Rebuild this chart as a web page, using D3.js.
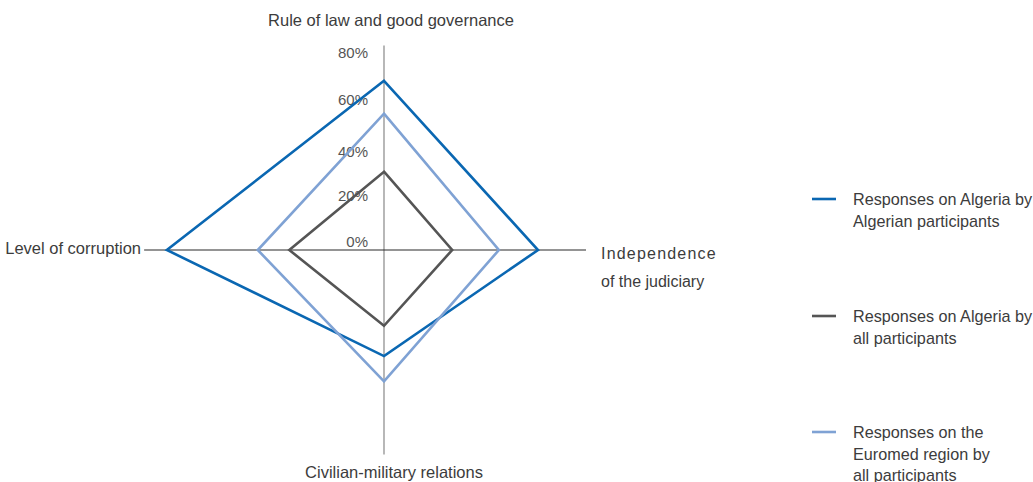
<!DOCTYPE html>
<html>
<head>
<meta charset="utf-8">
<script src="https://cdn.jsdelivr.net/npm/d3@7"></script>
<style>
  body { margin: 0; background: #fff; }
  text { font-family: "Liberation Sans", Arial, sans-serif; fill: #3c3c3c; }
</style>
</head>
<body>
<script>
// axes in drawing order: top, right, bottom, left
var axes = ["Rule of law and good governance", "Independence of the judiciary", "Civilian-military relations", "Level of corruption"];
var ticks = [0, 20, 40, 60, 80];
var seriesNames = [
  ["Responses on Algeria by", "Algerian participants"],
  ["Responses on Algeria by", "all participants"],
  ["Responses on the", "Euromed region by", "all participants"]
];
var algeriaByAlgerians = [67, 61, 42, 86];
var algeriaByAll = [31, 27, 30, 37.5];
var euromedByAll = [54, 45.5, 52, 50];
var colors = ["#0a67b2", "#555555", "#7fa2d4"];

var width = 1033, height = 482;
var cx = 384, cy = 250;

var svg = d3.select("body").append("svg")
    .attr("width", width)
    .attr("height", height);

var r = d3.scaleLinear().domain([0, 80]).range([0, 202]);

// angle for each axis (clockwise from top)
var angle = function(i) { return i * Math.PI / 2; };

// axis lines (left one runs longer in the original)
var axisExtent = [81, 80, 81, 95];
svg.append("line")
  .attr("x1", cx).attr("x2", cx)
  .attr("y1", cy - r(axisExtent[0])).attr("y2", cy + r(axisExtent[2]))
  .style("stroke", "#888").style("stroke-width", 1.2);
svg.append("line")
  .attr("y1", cy).attr("y2", cy)
  .attr("x1", cx - r(axisExtent[3])).attr("x2", cx + r(axisExtent[1]))
  .style("stroke", "#2a2a2a").style("stroke-width", 1.1);

// tick labels
var tickY = [242, 196, 152, 100, 53];
svg.selectAll(".tick")
  .data(ticks)
  .enter().append("text")
  .attr("class", "tick")
  .attr("x", 368)
  .attr("y", function(d, i) { return tickY[i]; })
  .attr("dy", "0.35em")
  .attr("text-anchor", "end")
  .style("font-size", "15px")
  .style("fill", "#555")
  .text(function(d) { return d + "%"; });

var radar = d3.lineRadial()
  .angle(function(d, i) { return angle(i); })
  .radius(function(d) { return r(d); })
  .curve(d3.curveLinearClosed);

var allSeries = [algeriaByAlgerians, euromedByAll, algeriaByAll];
var seriesColors = [colors[0], colors[2], colors[1]];

svg.append("g")
  .attr("transform", "translate(" + cx + "," + cy + ")")
  .selectAll("path")
  .data(allSeries)
  .enter().append("path")
  .attr("d", radar)
  .style("fill", "none")
  .style("stroke", function(d, i) { return seriesColors[i]; })
  .style("stroke-width", 2.6)
  .style("stroke-linejoin", "miter");

// axis labels
svg.append("text").attr("x", 391).attr("y", 26)
  .attr("text-anchor", "middle").style("font-size", "16.5px").text(axes[0]);
svg.append("text").attr("x", 601).attr("y", 259)
  .style("font-size", "16px").style("letter-spacing", "1.2px").text("Independence");
svg.append("text").attr("x", 601).attr("y", 287)
  .style("font-size", "16px").text("of the judiciary");
svg.append("text").attr("x", 394).attr("y", 478)
  .attr("text-anchor", "middle").style("font-size", "16.5px").text(axes[2]);
svg.append("text").attr("x", 141).attr("y", 254)
  .attr("text-anchor", "end").style("font-size", "16.5px").text(axes[3]);

// legend
var legendY = [199, 316, 432];
var legend = svg.selectAll(".legend")
  .data(seriesNames)
  .enter().append("g")
  .attr("class", "legend")
  .attr("transform", function(d, i) { return "translate(812," + legendY[i] + ")"; });

legend.append("line")
  .attr("x1", 0).attr("x2", 24)
  .style("stroke", function(d, i) { return colors[i]; })
  .style("stroke-width", 2.6);

legend.append("text")
  .attr("x", 41)
  .attr("y", 6)
  .style("font-size", "16.2px")
  .selectAll("tspan")
  .data(function(d) { return d; })
  .enter().append("tspan")
  .attr("x", 41)
  .attr("dy", function(d, i) { return i === 0 ? 0 : 21.5; })
  .text(function(d) { return d; });
</script>
</body>
</html>
